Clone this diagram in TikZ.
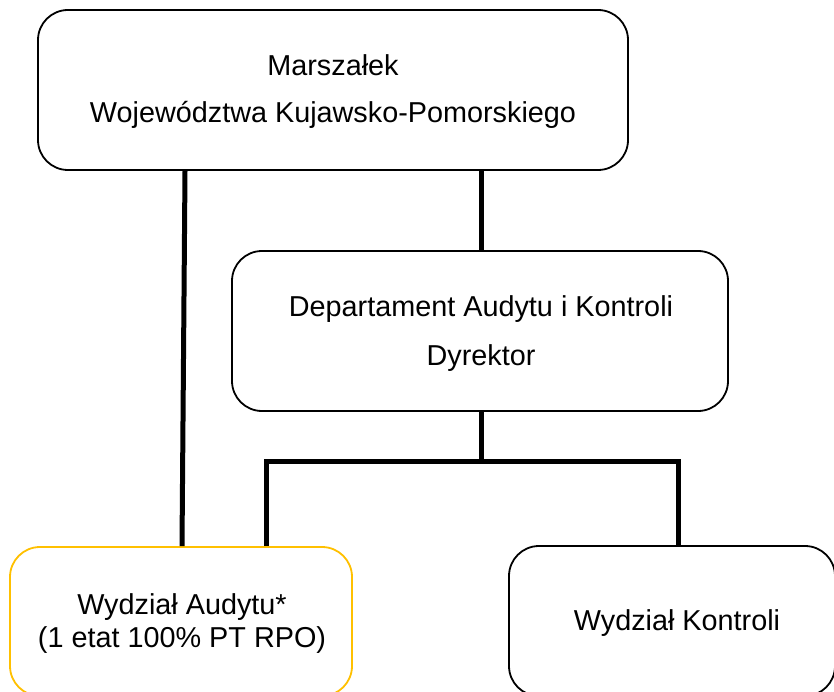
\documentclass[tikz,border=0pt]{standalone}
\usepackage{fontspec}
\setmainfont{Liberation Sans}
\definecolor{gold}{HTML}{FFC000}
\begin{document}
\begin{tikzpicture}[x=1pt,y=-1pt,
  box/.style={draw=black,line width=1.8pt,rounded corners=30pt,inner sep=0pt,fill=white},
  conn/.style={draw=black,line width=5pt,line join=miter},
  txt/.style={font=\fontsize{28.8}{47}\selectfont,align=center,inner sep=0pt}]
\useasboundingbox (0,0) rectangle (834,692);
\clip (0,0) rectangle (834,692);
% boxes
\node[box,minimum width=590pt,minimum height=160pt] (top) at (333,90) {};
\node[box,minimum width=496pt,minimum height=160pt] (mid) at (480,331) {};
\node[box,draw=gold,minimum width=342pt,minimum height=149pt] (aud) at (181,621.5) {};
\node[box,minimum width=326pt,minimum height=150pt] (kon) at (672,621) {};
% texts
\node[txt,anchor=base] (t1) at (333,76) {Marszałek};
\node[txt,anchor=base] (t2) at (333,123) {Województwa Kujawsko-Pomorskiego};
\node[txt,anchor=base] (m1) at (481,316) {Departament Audytu i Kontroli};
\node[txt,anchor=base] (m2) at (481,365) {Dyrektor};
\node[txt,anchor=base] (a1) at (182,614) {Wydział Audytu*};
\node[txt,anchor=base] (a2) at (182,647) {(1 etat 100\% PT RPO)};
\node[txt,anchor=base] (k1) at (677,630) {Wydział Kontroli};
% connectors
\coordinate (jl) at (266,461);
\coordinate (jr) at (678,461);
\coordinate (jm) at (481,461);
\draw[conn] ([xshift=-148pt]top.south) -- ([xshift=1pt]aud.north);
\draw[conn] ([xshift=1pt]mid.north) -- ([xshift=1pt]mid.north |- top.south);
\draw[conn] ([xshift=1pt]mid.south) -- (jm);
\draw[conn] (jl |- aud.north) -- (jl) -- (jr) -- (jr |- kon.north);
\end{tikzpicture}
\end{document}
